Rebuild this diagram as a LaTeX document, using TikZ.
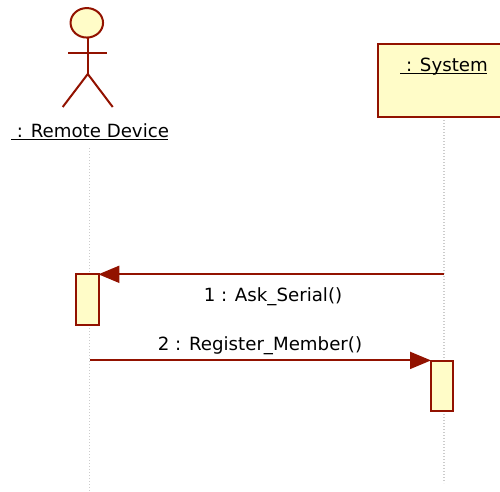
\documentclass[tikz,border=0pt]{standalone}
\usepackage{fontspec}
\setmainfont{DejaVu Sans}
\usetikzlibrary{arrows.meta,shapes.geometric}
\definecolor{umlred}{HTML}{921200}
\definecolor{umlfill}{HTML}{FFFCC8}
\tikzset{
  x=1pt,y=-1pt,
  line/.style={draw=umlred,line width=2pt},
  boxed/.style={rectangle,draw=umlred,fill=umlfill,line width=2pt,inner sep=0pt,outer sep=0pt,minimum width=#1},
  lifeline/.style={draw=black!20,line width=1.3pt,dash pattern=on 1pt off 2pt},
  msg/.style={line,-{Triangle[length=21pt,width=17pt,color=umlred]}},
  txt/.style={font=\fontsize{18.2}{20}\selectfont,text=black,inner sep=0pt},
  stick/.style={line,line width=2pt},
  uline/.style={draw=black,line width=1.2pt}
}
\begin{document}
\begin{tikzpicture}
\useasboundingbox (0,0) rectangle (500,491);
\clip (0,0) rectangle (500,491);
% lifeline anchors
\coordinate (l1top) at (89.7,148);
\coordinate (l1bot) at (89.7,491);
\coordinate (l2top) at (444,120);
\coordinate (l2bot) at (444,483);
\draw[lifeline] (l1top) -- (l1bot);
\draw[lifeline] (l2top) -- (l2bot);
% actor
\node[ellipse,draw=umlred,fill=umlfill,line width=2pt,minimum width=32.5pt,minimum height=29.5pt,inner sep=0pt,outer sep=0pt] (head) at (86.8,22.8) {};
\coordinate (hip) at (87.8,74);
\coordinate (armL) at (68.3,52.7);
\coordinate (armR) at (107,52.7);
\coordinate (legL) at (62.7,107);
\coordinate (legR) at (112.7,107);
\draw[stick] (head.south -| hip) -- (hip);
\draw[stick] (armL) -- (armR);
\draw[stick] (legL) -- (hip) -- (legR);
\node[txt,anchor=base] (remote) at (93,137) {: Remote Device};
\coordinate (ulA) at (11,139.3);
\coordinate (ulB) at (168,139.3);
\draw[uline] (ulA) -- (ulB);
% system
\node[boxed=130pt,minimum height=73.2pt,anchor=north west] (system) at (377.5,43.6) {};
\node[txt,anchor=base] (systxt) at (447,71) {: System};
\coordinate (usA) at (400,73.4);
\coordinate (usB) at (487,73.4);
\draw[uline] (usA) -- (usB);
% activations
\node[boxed=22.9pt,minimum height=50.8pt,anchor=north west] (act1) at (76.3,274.2) {};
\node[boxed=22.3pt,minimum height=50.3pt,anchor=north west] (act2) at (431,360.8) {};
% messages
\coordinate (m1s) at (444,274.3);
\coordinate (m2s) at (90,360.4);
\draw[msg,shorten >=-0.8pt] (m1s) -- (m1s -| act1.east);
\draw[msg] (m2s) -- (m2s -| act2.west);
\node[txt,anchor=base] (m1) at (273,301) {1 : Ask\_Serial()};
\node[txt,anchor=base] (m2) at (260,350) {2 : Register\_Member()};
\end{tikzpicture}
\end{document}
